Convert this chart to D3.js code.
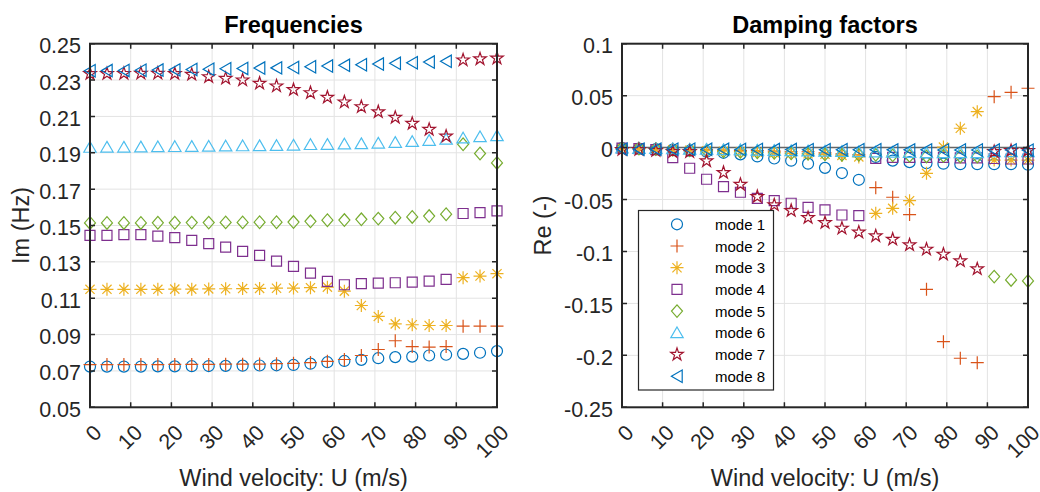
<html>
<head>
<meta charset="utf-8">
<style>
  body { margin: 0; background: white; font-family: Arial, "Liberation Sans", Helvetica, sans-serif; }
  svg { display: block; }
</style>
<script src="https://cdn.jsdelivr.net/npm/d3@7"></script>
</head>
<body>
<svg id="main"></svg>
<script>
// wind velocity steps (m/s)
const velocity = [0, 4.17, 8.33, 12.5, 16.67, 20.83, 25, 29.17, 33.33, 37.5, 41.67, 45.83, 50,
  54.17, 58.33, 62.5, 66.67, 70.83, 75, 79.17, 83.33, 87.5, 91.67, 95.83, 100]

const modeNames = ["mode 1", "mode 2", "mode 3", "mode 4", "mode 5", "mode 6", "mode 7", "mode 8"]

// Im (Hz), one row per mode
const freq1 = [0.0724, 0.0724, 0.0724, 0.0724, 0.0725, 0.0725, 0.0726, 0.0727, 0.0728, 0.0729, 0.0730, 0.0731, 0.0733,
  0.0740, 0.0748, 0.0755, 0.0761, 0.0770, 0.0776, 0.0779, 0.0785, 0.0789, 0.0794, 0.0800, 0.0809]
const freq2 = [0.0735, 0.0735, 0.0735, 0.0735, 0.0735, 0.0736, 0.0736, 0.0736, 0.0737, 0.0737, 0.0738, 0.0740, 0.0742,
  0.0746, 0.0753, 0.0763, 0.0785, 0.0818, 0.0866, 0.0834, 0.0831, 0.0834, 0.0946, 0.0946, 0.0946]
const freq3 = [0.1149, 0.1149, 0.1149, 0.1149, 0.1149, 0.1150, 0.1150, 0.1151, 0.1152, 0.1153, 0.1154, 0.1155, 0.1156,
  0.1158, 0.1161, 0.1139, 0.1060, 0.1000, 0.0959, 0.0954, 0.0950, 0.0950, 0.1213, 0.1222, 0.1235]
const freq4 = [0.1446, 0.1446, 0.1450, 0.1450, 0.1442, 0.1433, 0.1418, 0.1400, 0.1381, 0.1358, 0.1336, 0.1304, 0.1275,
  0.1238, 0.1193, 0.1174, 0.1180, 0.1183, 0.1185, 0.1189, 0.1194, 0.1204, 0.1566, 0.1571, 0.1580]
const freq5 = [0.1514, 0.1514, 0.1514, 0.1514, 0.1515, 0.1515, 0.1516, 0.1516, 0.1517, 0.1517, 0.1518, 0.1518, 0.1519,
  0.1523, 0.1529, 0.1530, 0.1534, 0.1538, 0.1543, 0.1547, 0.1552, 0.1562, 0.1947, 0.1896, 0.1844]
const freq6 = [0.1930, 0.1931, 0.1931, 0.1932, 0.1933, 0.1934, 0.1935, 0.1936, 0.1937, 0.1938, 0.1939, 0.1940, 0.1942,
  0.1945, 0.1946, 0.1948, 0.1950, 0.1953, 0.1957, 0.1962, 0.1968, 0.1975, 0.1981, 0.1988, 0.1994]
const freq7 = [0.2335, 0.2335, 0.2336, 0.2337, 0.2337, 0.2335, 0.2331, 0.2318, 0.2309, 0.2300, 0.2282, 0.2267, 0.2247,
  0.2230, 0.2205, 0.2179, 0.2153, 0.2125, 0.2094, 0.2061, 0.2028, 0.1991, 0.2410, 0.2416, 0.2420]
const freq8 = [0.2351, 0.2352, 0.2353, 0.2354, 0.2355, 0.2356, 0.2358, 0.2360, 0.2362, 0.2364, 0.2366, 0.2367, 0.2369,
  0.2373, 0.2377, 0.2381, 0.2384, 0.2388, 0.2392, 0.2395, 0.2399, 0.2403, null, null, null]

// Re (-), one row per mode
const damp1 = [-0.0005, -0.001, -0.0015, -0.002, -0.003, -0.004, -0.005, -0.0065, -0.0085, -0.0105, -0.0126, -0.0155, -0.0195,
  -0.0245, -0.031, -0.009, -0.0125, -0.014, -0.015, -0.0155, -0.016, -0.016, -0.016, -0.016, -0.0165]
const damp2 = [-0.0005, -0.001, -0.001, -0.0015, -0.002, -0.002, -0.0025, -0.003, -0.003, -0.0035, -0.004, -0.004, -0.005,
  -0.006, -0.007, -0.0386, -0.0478, -0.0645, -0.1364, -0.1868, -0.2028, -0.207, 0.049, 0.0532, 0.0571]
const damp3 = [-0.0005, -0.001, -0.0015, -0.002, -0.0025, -0.003, -0.0035, -0.004, -0.0045, -0.005, -0.0055, -0.006, -0.0065,
  -0.0075, -0.009, -0.0633, -0.0585, -0.0511, -0.0248, 0.0005, 0.0186, 0.0346, -0.012, -0.012, -0.012]
const damp4 = [-0.0005, -0.001, -0.002, -0.0097, -0.0199, -0.0305, -0.0376, -0.043, -0.0488, -0.0511, -0.0536, -0.0575, -0.060,
  -0.0649, -0.0655, -0.0103, -0.0095, -0.0095, -0.0095, -0.0095, -0.010, -0.010, -0.0105, -0.011, -0.011]
const damp5 = [-0.0005, -0.001, -0.0015, -0.002, -0.0025, -0.003, -0.0035, -0.004, -0.0045, -0.005, -0.0055, -0.006, -0.0065,
  -0.007, -0.007, -0.007, -0.0075, -0.008, -0.0085, -0.008, -0.0085, -0.0085, -0.1242, -0.1274, -0.1284]
const damp6 = [-0.0005, -0.0008, -0.001, -0.0012, -0.0015, -0.0017, -0.002, -0.0022, -0.0025, -0.0027, -0.003, -0.0032, -0.0035,
  -0.0037, -0.004, -0.0042, -0.0045, -0.0047, -0.005, -0.005, -0.005, -0.005, -0.004, -0.004, -0.004]
const damp7 = [-0.002, -0.002, -0.003, -0.004, -0.004, -0.0129, -0.0241, -0.0355, -0.0472, -0.0552, -0.0607, -0.0675, -0.0723,
  -0.0777, -0.0815, -0.0851, -0.0883, -0.0937, -0.0979, -0.1027, -0.1091, -0.1168, -0.004, -0.003, -0.003]
const damp8 = [-0.0015, -0.0015, -0.0015, -0.0016, -0.0016, -0.0017, -0.0017, -0.0018, -0.0018, -0.0019, -0.0019, -0.002, -0.002,
  -0.002, -0.0021, -0.0021, -0.0022, -0.0022, -0.0022, -0.0023, -0.0023, -0.0023, -0.0024, -0.0024, -0.0025]

const xTicks = [0, 10, 20, 30, 40, 50, 60, 70, 80, 90, 100]
const freqTicks = [0.05, 0.07, 0.09, 0.11, 0.13, 0.15, 0.17, 0.19, 0.21, 0.23, 0.25]
const freqTickLabels = ["0.05", "0.07", "0.09", "0.11", "0.13", "0.15", "0.17", "0.19", "0.21", "0.23", "0.25"]
const dampTicks = [-0.25, -0.2, -0.15, -0.1, -0.05, 0, 0.05, 0.1]
const dampTickLabels = ["-0.25", "-0.2", "-0.15", "-0.1", "-0.05", "0", "0.05", "0.1"]

const freqModes = [freq1, freq2, freq3, freq4, freq5, freq6, freq7, freq8]
const dampModes = [damp1, damp2, damp3, damp4, damp5, damp6, damp7, damp8]

const colors = ["#0072BD", "#D95319", "#EDB120", "#7E2F8E", "#77AC30", "#4DBEEE", "#A2142F", "#0072BD"]
const markers = ["o", "+", "*", "s", "d", "^", "p", "<"]

function star(R) {
  let r = R * 0.382, p = []
  for (let k = 0; k < 10; k++) {
    const a = -Math.PI / 2 + k * Math.PI / 5
    const rr = k % 2 ? r : R
    p.push([rr * Math.cos(a), rr * Math.sin(a)])
  }
  return "M" + p.map(d => d[0].toFixed(2) + "," + d[1].toFixed(2)).join("L") + "Z"
}

function markerPath(m) {
  if (m == "o") return "M5.5,0A5.5,5.5 0 1,1 -5.5,0A5.5,5.5 0 1,1 5.5,0Z"
  else if (m == "+") return "M-6.5,0H6.5M0,-6.5V6.5"
  else if (m == "*") return "M-6.5,0H6.5M0,-6.5V6.5M-4.6,-4.6L4.6,4.6M-4.6,4.6L4.6,-4.6"
  else if (m == "s") return "M-5,-5H5V5H-5Z"
  else if (m == "d") return "M0,-6.3L5.5,0L0,6.3L-5.5,0Z"
  else if (m == "^") return "M0,-5.8L6.2,4.9L-6.2,4.9Z"
  else if (m == "p") return star(6.6)
  else if (m == "<") return "M-5.6,0L5.2,-6.2L5.2,6.2Z"
}

const width = 1040
const height = 492
const svg = d3.select("#main").attr("width", width).attr("height", height)

const axColor = "#262626"
const plotTop = 43.7, plotBottom = 407.3

function panel(opt) {
  const x = d3.scaleLinear([0, 100], [opt.left, opt.right])
  const y = d3.scaleLinear(opt.domain, [plotBottom, plotTop])
  const g = svg.append("g")

  // grid
  g.append("g").selectAll("line").data(xTicks).join("line")
    .attr("x1", d => x(d)).attr("x2", d => x(d)).attr("y1", plotTop).attr("y2", plotBottom)
    .attr("stroke", "#e3e3e3").attr("stroke-width", 1)
  g.append("g").selectAll("line").data(opt.ticks).join("line")
    .attr("x1", opt.left).attr("x2", opt.right).attr("y1", d => y(d)).attr("y2", d => y(d))
    .attr("stroke", "#e3e3e3").attr("stroke-width", 1)

  if (opt.zeroLine) {
    g.append("line")
      .attr("x1", x(0)).attr("x2", x(100)).attr("y1", y(0)).attr("y2", y(0))
      .attr("stroke", "#666").attr("stroke-width", 1.5)
  }

  // markers, mode 1 first so mode 8 ends on top
  opt.series.forEach((vals, m) => {
    const pts = velocity.map((v, i) => [v, vals[i]]).filter(d => d[1] != null)
    g.append("g")
      .attr("fill", "none")
      .attr("stroke", colors[m])
      .attr("stroke-width", 1.2)
      .selectAll("path").data(pts).join("path")
      .attr("transform", d => `translate(${x(d[0])},${y(d[1])})`)
      .attr("d", markerPath(markers[m]))
  })

  // box + inward ticks
  g.append("rect")
    .attr("x", opt.left).attr("y", plotTop)
    .attr("width", opt.right - opt.left).attr("height", plotBottom - plotTop)
    .attr("fill", "none").attr("stroke", axColor).attr("stroke-width", 2)
  const tl = 5
  g.append("g").selectAll("path").data(xTicks).join("path")
    .attr("d", d => `M${x(d)},${plotBottom}v${-tl}M${x(d)},${plotTop}v${tl}`)
    .attr("stroke", axColor).attr("stroke-width", 1.5)
  g.append("g").selectAll("path").data(opt.ticks).join("path")
    .attr("d", d => `M${opt.left},${y(d)}h${tl}M${opt.right},${y(d)}h${-tl}`)
    .attr("stroke", axColor).attr("stroke-width", 1.5)

  // tick labels
  g.append("g").attr("font-size", 21.5).attr("fill", axColor).attr("text-anchor", "end")
    .selectAll("text").data(opt.ticks).join("text")
    .attr("x", opt.left - 9).attr("y", d => y(d) + 9.5)
    .text((d, i) => opt.tickLabels[i])
  g.append("g").attr("font-size", 21.5).attr("fill", axColor).attr("text-anchor", "end")
    .selectAll("text").data(xTicks).join("text")
    .attr("dominant-baseline", "central")
    .attr("transform", d => `translate(${x(d) + 8},${429})rotate(-45)`)
    .text(d => d)

  // titles and labels
  const cx = (opt.left + opt.right) / 2
  g.append("text").attr("x", cx).attr("y", 33).attr("text-anchor", "middle")
    .attr("font-size", 23.5).attr("font-weight", "bold").attr("fill", "black").text(opt.title)
  g.append("text").attr("x", cx).attr("y", 486).attr("text-anchor", "middle")
    .attr("font-size", 23.5).attr("fill", axColor).text("Wind velocity: U (m/s)")
  g.append("text")
    .attr("transform", `translate(${opt.ylabelX},${(plotTop + plotBottom) / 2})rotate(-90)`)
    .attr("text-anchor", "middle").attr("dominant-baseline", "central")
    .attr("font-size", 23.5).attr("fill", axColor).text(opt.ylabel)
}

panel({ left: 90, right: 497, domain: [0.05, 0.25], ticks: freqTicks, tickLabels: freqTickLabels,
  series: freqModes, title: "Frequencies", ylabel: "Im (Hz)", ylabelX: 21 })
panel({ left: 622, right: 1028, domain: [-0.25, 0.1], ticks: dampTicks, tickLabels: dampTickLabels,
  series: dampModes, title: "Damping factors", ylabel: "Re (-)", ylabelX: 543, zeroLine: true })

// legend
const legend = svg.append("g")
legend.append("rect")
  .attr("x", 638.5).attr("y", 210.5).attr("width", 135).attr("height", 179.5)
  .attr("fill", "white").attr("stroke", axColor).attr("stroke-width", 1.2)
const rows = legend.selectAll("g.row").data(modeNames).join("g")
  .attr("class", "row")
  .attr("transform", (d, i) => `translate(0,${224.3 + i * 21.7})`)
rows.append("path")
  .attr("transform", "translate(677,0)")
  .attr("d", (d, i) => markerPath(markers[i]))
  .attr("fill", "none").attr("stroke", (d, i) => colors[i]).attr("stroke-width", 1.2)
rows.append("text")
  .attr("x", 715).attr("dominant-baseline", "central")
  .attr("font-size", 15).attr("fill", "black").text(d => d)
</script>
</body>
</html>
